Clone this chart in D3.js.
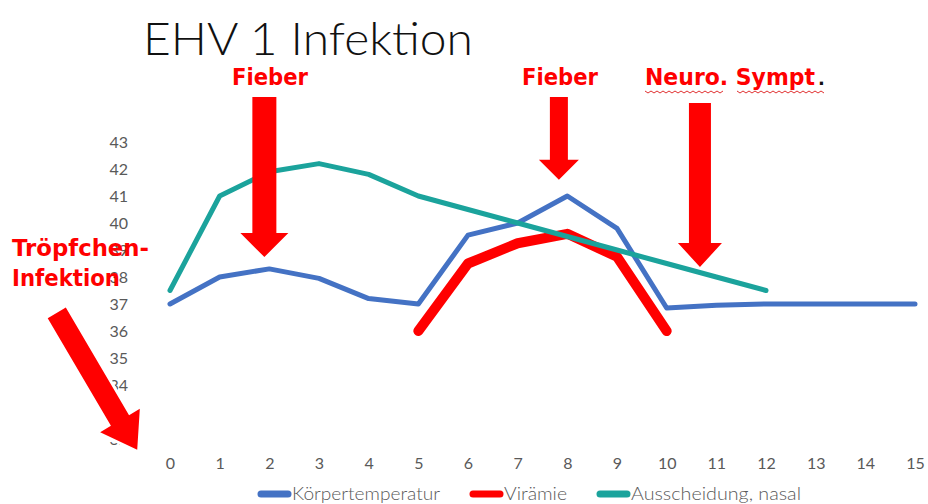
<!DOCTYPE html>
<html>
<head>
<meta charset="utf-8">
<script src="https://cdn.jsdelivr.net/npm/d3@7"></script>
<style>
  body { margin: 0; background: #fff; }
  svg { display: block; }
</style>
</head>
<body>
<svg id="chart" width="928" height="504"></svg>
<script>
// data
const days = [0, 1, 2, 3, 4, 5, 6, 7, 8, 9, 10, 11, 12, 13, 14, 15];
const koerpertemperatur = [37, 38, 38.3, 37.95, 37.2, 37, 39.55, 40, 41, 39.8, 36.85, 36.95, 37, 37, 37, 37];
const viraemie = [null, null, null, null, null, 36, 38.5, 39.25, 39.6, 38.75, 36, null, null, null, null, null];
const ausscheidung = [37.5, 41, 41.9, 42.2, 41.8, 41, 40.5, 40, 39.5, 39, 38.5, 38, 37.5, null, null, null];
const yTicks = [32, 33, 34, 35, 36, 37, 38, 39, 40, 41, 42, 43];
const seriesNames = ["Körpertemperatur", "Virämie", "Ausscheidung, nasal"];

// annotation arrows in data units: [x tail, y tail, x tip, y tip]
const arrows = [
  { from: [1.9, 44.67], to: [1.9, 38.74], shaft: 24, head: 48, headLen: 24 },
  { from: [7.83, 44.67], to: [7.83, 41.6], shaft: 18, head: 40, headLen: 20 },
  { from: [10.67, 44.44], to: [10.67, 38.37], shaft: 22, head: 44, headLen: 24 },
  { from: [-2.28, 36.67], to: [-0.66, 31.6], shaft: 21, head: 46, headLen: 34 }
];

const svg = d3.select("#chart");
const x = d3.scaleLinear().domain([0, 15]).range([170, 915]);
const y = d3.scaleLinear().domain([32, 43]).range([439, 142]);

const colors = ["#4472C4", "#FF0000", "#1BA39C"];
const widths = [5, 10, 5];
const allSeries = [koerpertemperatur, viraemie, ausscheidung];
const labelFont = "Lato, 'DejaVu Sans', sans-serif";

// axes: labels only, no lines
const yAxis = svg.append("g")
  .attr("transform", "translate(128,0)")
  .call(d3.axisLeft(y).tickValues(yTicks).tickSize(0).tickPadding(0));
yAxis.select(".domain").remove();
yAxis.selectAll("text")
  .attr("fill", "#595959")
  .style("font-family", labelFont)
  .style("font-size", "16px");

const xAxis = svg.append("g")
  .attr("transform", "translate(0,458)")
  .call(d3.axisBottom(x).tickValues(days).tickSize(0).tickPadding(0));
xAxis.select(".domain").remove();
xAxis.selectAll("text")
  .attr("fill", "#595959")
  .style("font-family", labelFont)
  .style("font-size", "16px");

// series lines
const line = d3.line()
  .defined(d => d != null)
  .x((d, i) => x(days[i]))
  .y(d => y(d));

allSeries.forEach((s, k) => {
  svg.append("path")
    .datum(s)
    .attr("fill", "none")
    .attr("stroke", colors[k])
    .attr("stroke-width", widths[k])
    .attr("stroke-linejoin", "round")
    .attr("stroke-linecap", "round")
    .attr("d", line);
});

// title
svg.append("text")
  .attr("x", 143).attr("y", 55)
  .attr("textLength", 330).attr("lengthAdjust", "spacingAndGlyphs")
  .style("font-family", labelFont)
  .style("font-weight", "300")
  .style("font-size", "46px")
  .attr("fill", "#111")
  .text("EHV 1 Infektion");

// arrows
function arrowPath(a) {
  const x1 = x(a.from[0]), y1 = y(a.from[1]);
  const x2 = x(a.to[0]), y2 = y(a.to[1]);
  const len = Math.hypot(x2 - x1, y2 - y1);
  const ux = (x2 - x1) / len, uy = (y2 - y1) / len;
  const nx = -uy, ny = ux;
  const bx = x2 - ux * a.headLen, by = y2 - uy * a.headLen;
  const s = a.shaft / 2, h = a.head / 2;
  const pts = [
    [x1 + nx * s, y1 + ny * s],
    [bx + nx * s, by + ny * s],
    [bx + nx * h, by + ny * h],
    [x2, y2],
    [bx - nx * h, by - ny * h],
    [bx - nx * s, by - ny * s],
    [x1 - nx * s, y1 - ny * s]
  ];
  return "M" + pts.map(p => p.join(",")).join("L") + "Z";
}

// the diagonal arrow has a thin white backing over the tick labels
svg.append("path")
  .datum(arrows[3])
  .attr("fill", "#fff")
  .attr("stroke", "#fff")
  .attr("stroke-width", 6)
  .attr("stroke-linejoin", "round")
  .attr("d", arrowPath);

svg.selectAll("path.arrow")
  .data(arrows)
  .enter()
  .append("path")
  .attr("class", "arrow")
  .attr("fill", "#FF0000")
  .attr("d", arrowPath);

// red annotation labels
const redFont = "'DejaVu Sans', sans-serif";
function redLabel(txt, xx, yy, len) {
  return svg.append("text")
    .attr("x", xx).attr("y", yy)
    .attr("textLength", len).attr("lengthAdjust", "spacingAndGlyphs")
    .style("font-family", redFont)
    .style("font-weight", "bold")
    .style("font-size", "23px")
    .attr("fill", "#FF0000")
    .text(txt);
}
redLabel("Fieber", 232, 85, 76);
redLabel("Fieber", 522, 85, 76);
redLabel("Neuro. Sympt", 645, 85, 170);
svg.append("text")
  .attr("x", 818).attr("y", 85)
  .style("font-family", redFont)
  .style("font-weight", "bold")
  .style("font-size", "18px")
  .attr("fill", "#111")
  .text(".");
redLabel("Tröpfchen-", 12, 256, 137);
redLabel("Infektion", 12, 286, 108);

// wavy spell-check underlines
function wavy(x0, x1, yy) {
  let d = "M" + x0 + "," + yy;
  for (let xx = x0, k = 0; xx < x1; xx += 3, k++) {
    d += "L" + (xx + 3) + "," + (yy + (k % 2 === 0 ? 2 : 0));
  }
  return d;
}
[[645, 722], [737, 822]].forEach(r => {
  svg.append("path")
    .attr("d", wavy(r[0], r[1], 91))
    .attr("fill", "none")
    .attr("stroke", "#E03030")
    .attr("stroke-width", 1);
});

// legend
const legendX = [258, 470, 597];
const legendLen = [148, 63, 170];
const legend = svg.append("g").attr("transform", "translate(0,494)");
seriesNames.forEach((name, k) => {
  legend.append("line")
    .attr("x1", legendX[k] + 3).attr("x2", legendX[k] + 30)
    .attr("y1", 0).attr("y2", 0)
    .attr("stroke", colors[k])
    .attr("stroke-width", 7)
    .attr("stroke-linecap", "round");
  legend.append("text")
    .attr("x", legendX[k] + 34).attr("y", 6)
    .attr("textLength", legendLen[k]).attr("lengthAdjust", "spacingAndGlyphs")
    .style("font-family", labelFont)
    .style("font-weight", "300")
    .style("font-size", "17px")
    .attr("fill", "#595959")
    .text(name);
});
</script>
</body>
</html>
